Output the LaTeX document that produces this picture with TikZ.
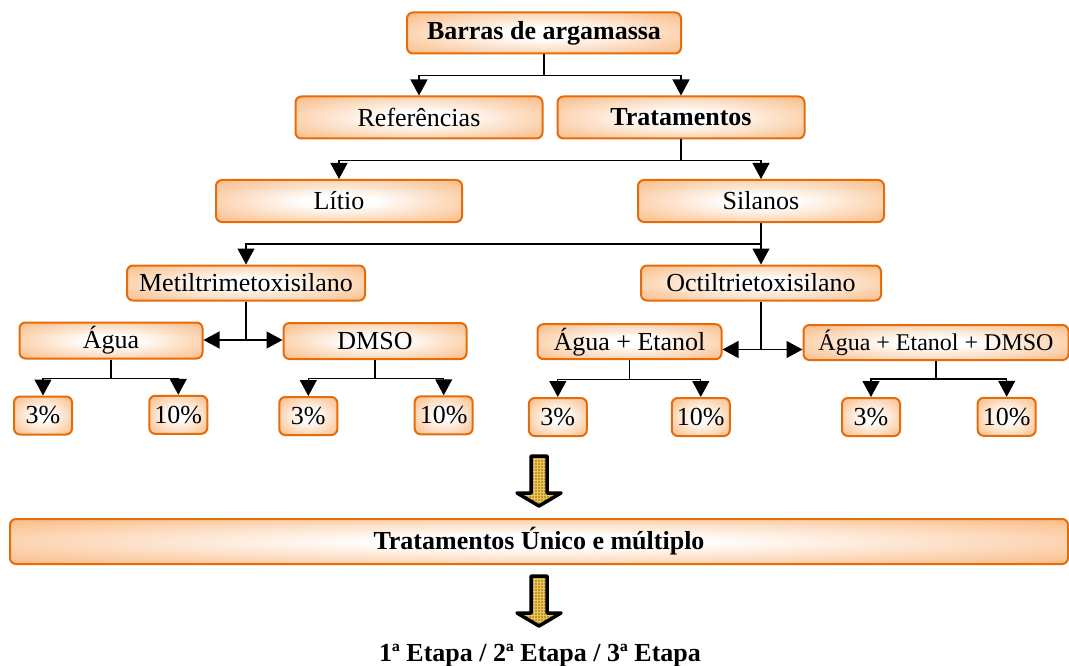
\documentclass[tikz,border=0pt]{standalone}
\usepackage{fontspec}
\setmainfont{Liberation Serif}
\usetikzlibrary{arrows.meta,patterns}
\definecolor{orB}{RGB}{228,108,10}
\definecolor{orF}{RGB}{250,190,138}
\definecolor{goldA}{RGB}{196,150,30}
\definecolor{goldB}{RGB}{232,200,100}
\pgfdeclareradialshading{boxglow}{\pgfpoint{0bp}{0bp}}{color(0bp)=(white); color(7bp)=(white); color(34bp)=(orF); color(50bp)=(orF)}
\begin{document}
\begin{tikzpicture}[x=1pt,y=-1pt,
  box/.style={draw=orB, line width=2pt, rounded corners=6pt, shading=boxglow,
    inner sep=0pt, font=\fontsize{26}{30}\selectfont, minimum height=41pt},
  pct/.style={box, minimum width=58pt, minimum height=38pt},
  conn/.style={line width=1.2pt, draw=black},
  arr/.style={conn, -{Triangle[width=17pt,length=16pt]}},
  blk/.style={draw=black, line width=3.5pt, line join=round, preaction={fill=goldA},
    pattern=grid, pattern color=goldB}]
\useasboundingbox (0,0) rectangle (1069,666);
% level 0-2
\node[box, minimum width=274pt] (barras) at (544,33) {\textbf{Barras de argamassa}};
\node[box, minimum width=247pt, minimum height=42pt] (ref) at (419,117.5) {Referências};
\node[box, minimum width=247pt, minimum height=42pt] (trat) at (681,117.5) {\textbf{Tratamentos}};
\node[box, minimum width=246pt, minimum height=42pt] (litio) at (339,201) {Lítio};
\node[box, minimum width=246pt, minimum height=42pt] (silanos) at (761,201) {Silanos};
% level 3
\node[box, minimum width=238pt, minimum height=35pt] (metil) at (246,283) {Metiltrimetoxisilano};
\node[box, minimum width=240pt, minimum height=35pt] (octil) at (761,283) {Octiltrietoxisilano};
% level 4
\node[box, minimum width=183pt, minimum height=36pt] (agua) at (111,340.5) {Água};
\node[box, minimum width=183pt, minimum height=36pt] (dmso) at (375,341) {DMSO};
\node[box, minimum width=184pt, minimum height=35pt] (ae) at (629.5,341.7) {Água + Etanol};
\node[box, minimum width=265pt, minimum height=35pt, font=\fontsize{24}{28}\selectfont] (aed) at (936,342.5) {Água + Etanol + DMSO};
% level 5
\node[pct] (a3) at (43,415.5) {3\%};
\node[pct] (a10) at (178.3,414.8) {10\%};
\node[pct] (d3) at (308.3,416) {3\%};
\node[pct] (d10) at (443.7,415.3) {10\%};
\node[pct] (e3) at (557.8,417) {3\%};
\node[pct] (e10) at (700.8,417) {10\%};
\node[pct] (f3) at (871,417) {3\%};
\node[pct] (f10) at (1006.7,416.8) {10\%};
% bottom
\node[box, minimum width=1058pt, minimum height=45pt] (uni) at (539,541.5) {\textbf{Tratamentos Único e múltiplo}};
\node[font=\fontsize{26}{30}\selectfont\bfseries, anchor=base, inner sep=0pt] (etapas) at (540,661.5) {1ª Etapa / 2ª Etapa / 3ª Etapa};
% connectors
\draw[arr] (barras.south) -- +(0,21) -| (ref.north);
\draw[arr] (barras.south) -- +(0,21) -| (trat.north);
\draw[arr] (trat.south) -- +(0,21) -| (litio.north);
\draw[arr] (trat.south) -- +(0,21) -| (silanos.north);
\draw[arr] (silanos.south) -- +(0,21) -| (metil.north);
\draw[arr] (silanos.south) -- (octil.north);
\coordinate (mc) at ([yshift=-38.5pt]metil.south);
\draw[conn] (metil.south) -- (mc);
\draw[arr] (mc) -- (mc -| agua.east);
\draw[arr] (mc) -- (mc -| dmso.west);
\coordinate (oc) at ([yshift=-48pt]octil.south);
\draw[conn] (octil.south) -- (oc);
\draw[arr] (oc) -- (oc -| ae.east);
\draw[arr] (oc) -- (oc -| aed.west);
\draw[arr] (agua.south) -- +(0,19) -| (a3.north);
\draw[arr] (agua.south) -- +(0,19) -| (a10.north);
\draw[arr] (dmso.south) -- +(0,18.5) -| (d3.north);
\draw[arr] (dmso.south) -- +(0,18.5) -| (d10.north);
\draw[arr] (ae.south) -- +(0,19) -| (e3.north);
\draw[arr] (ae.south) -- +(0,19) -| (e10.north);
\draw[arr] (aed.south) -- +(0,18) -| (f3.north);
\draw[arr] (aed.south) -- +(0,18) -| (f10.north);
% block arrows
\draw[blk] (531,456) -- (547,456) -- (547,493) -- (561,493) -- (539,506) -- (517,493) -- (531,493) -- cycle;
\draw[blk] (531,576) -- (547,576) -- (547,613) -- (561,613) -- (539,626) -- (517,613) -- (531,613) -- cycle;
\end{tikzpicture}
\end{document}
